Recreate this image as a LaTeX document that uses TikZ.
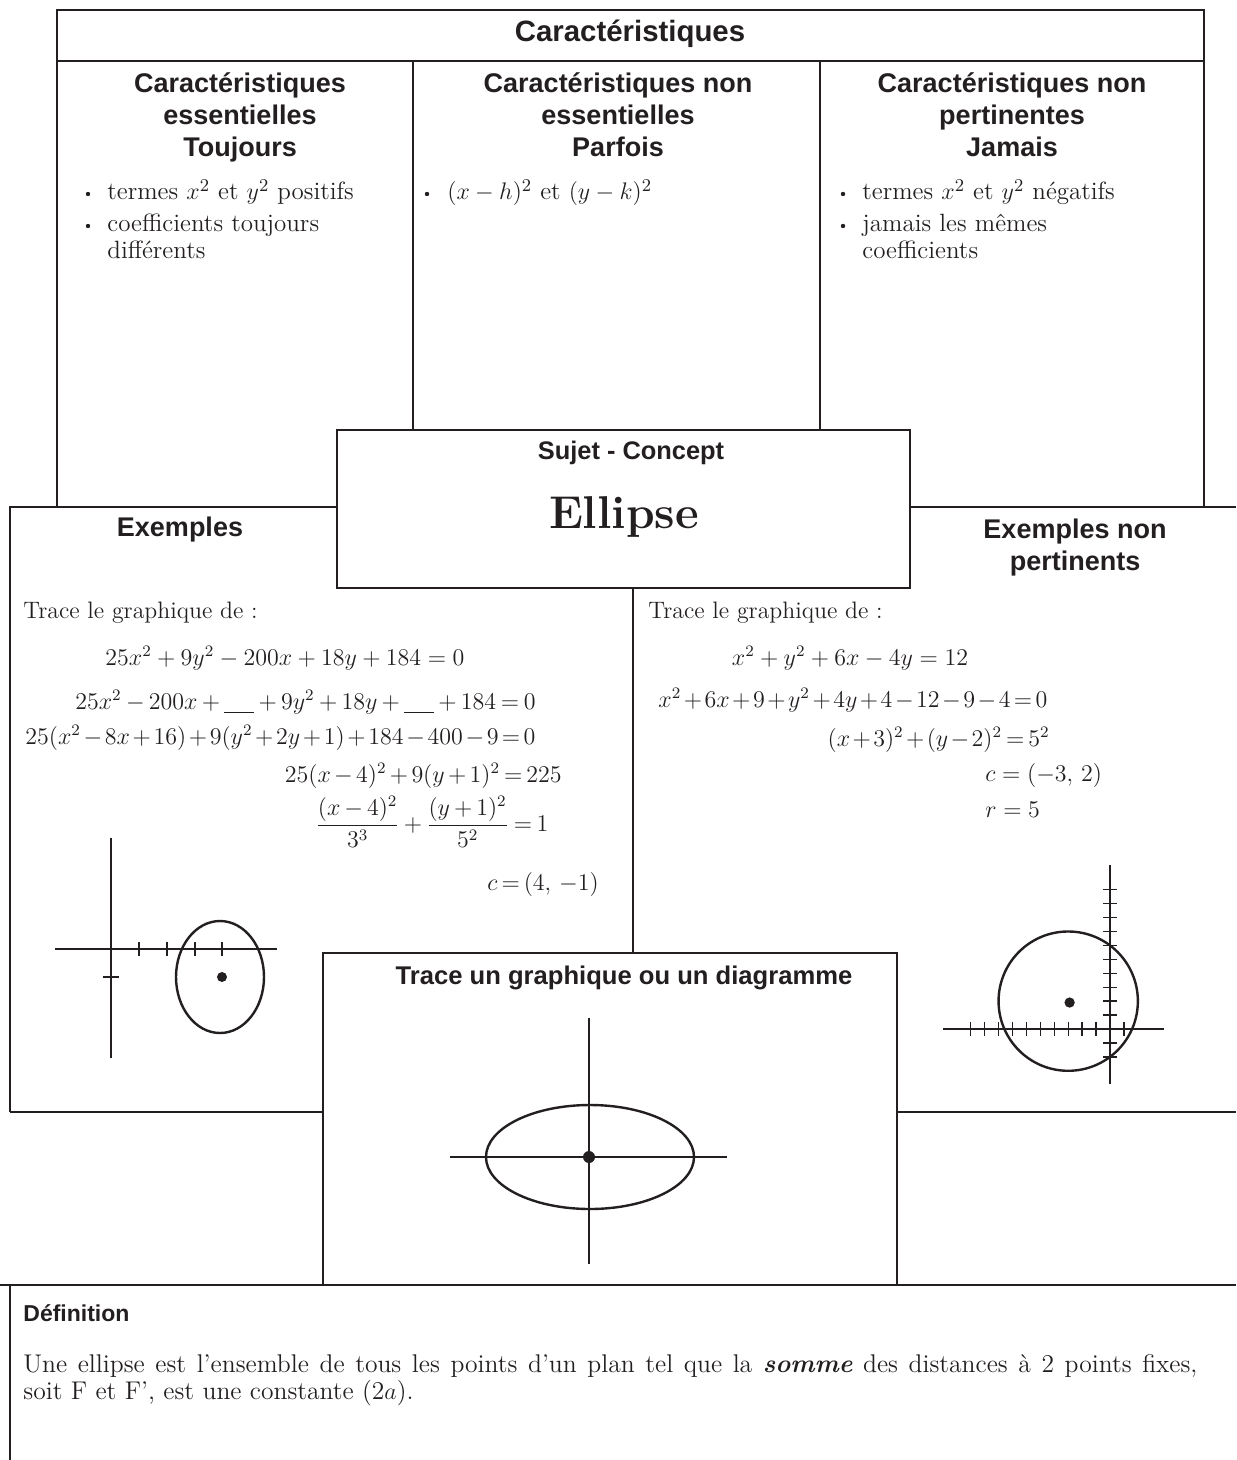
\documentclass[tikz,border=0pt]{standalone}
\usepackage{amsmath}
\usepackage{fontspec}
\newfontfamily\hv{Liberation Sans}
\definecolor{ink}{HTML}{231F20}
\newcommand{\tightmath}{\medmuskip=2.5mu plus 1mu\thickmuskip=3mu plus 1mu}
\begin{document}
\begin{tikzpicture}[x=0.5pt,y=-0.5pt,
  frame/.style={draw=ink, line width=1pt},
  hd/.style={font=\hv\bfseries\fontsize{14.7}{17}\selectfont, text=ink, inner sep=0pt},
  sub/.style={font=\hv\bfseries\fontsize{13.5}{16}\selectfont, align=center, text=ink, inner sep=0pt},
  body/.style={font=\fontsize{11.5}{14.5}\selectfont, text=ink, inner sep=0pt},
  item/.style={font=\fontsize{12.5}{14.5}\selectfont, text=ink, inner sep=0pt, anchor=base west},
  eq/.style={font=\fontsize{11.5}{14.5}\selectfont\tightmath, text=ink, inner sep=0pt},
  bul/.style={circle, fill=ink, inner sep=0pt, minimum size=2.2pt},
  axis/.style={draw=ink, line width=1.2pt},
  tk/.style={draw=ink, line width=0.7pt},
  dot/.style={fill=ink}]
\useasboundingbox[fill=white] (0,0) rectangle (1236,1460);

% ---------- frame lines ----------
\draw[frame] (57,507) -- (57,10) -- (1204,10) -- (1204,507);
\draw[frame] (57,61) -- (1204,61);
\draw[frame] (413,61) -- (413,507);
\draw[frame] (820,61) -- (820,507);
\draw[frame] (10,1112) -- (10,507) -- (1236,507);
\draw[frame] (10,1112) -- (1236,1112);
\draw[frame] (633,507) -- (633,1112);
\draw[frame] (0,1285) -- (1236,1285);
\draw[frame] (10,1285) -- (10,1460);
\draw[frame, fill=white] (337,430) rectangle (910,588);
\draw[frame, fill=white] (323,953) rectangle (897,1285);

% ---------- headers ----------
\node[hd] (carac) at (630,34) {Caractéristiques};
\node[sub, anchor=north] (ess) at (240,72) {Caractéristiques\\essentielles\\Toujours};
\node[sub, anchor=north] (noness) at (618,72) {Caractéristiques non\\essentielles\\Parfois};
\node[sub, anchor=north] (nonpert) at (1012,72) {Caractéristiques non\\pertinentes\\Jamais};

% ---------- bullets ----------
\node[bul] (b1) at (88,194) {};
\node[item] (t1) at (107,200) {termes $x^2$ et $y^2$ positifs};
\node[bul] (b2) at (88,226) {};
\node[item] (t2) at (107,232) {coefficients toujours};
\node[item] (t2b) at (107,259) {différents};

\node[bul] (b3) at (427,194) {};
\node[item] (t3) at (447,200) {$(x - h)^2$ et $(y - k)^2$};

\node[bul] (b4) at (843,194) {};
\node[item] (t4) at (862,200) {termes $x^2$ et $y^2$ négatifs};
\node[bul] (b5) at (843,226) {};
\node[item] (t5) at (862,232) {jamais les mêmes};
\node[item] (t5b) at (862,259) {coefficients};

% ---------- sujet ----------
\node[sub, font=\hv\bfseries\fontsize{12.7}{15}\selectfont] (sujet) at (631,453) {Sujet - Concept};
\node[font=\bfseries\fontsize{23}{26}\selectfont, text=ink, inner sep=0pt] (ellipse) at (624,517) {Ellipse};

\node[sub] (ex) at (180,530) {Exemples};
\node[sub] (exnp) at (1075,548) {Exemples non\\pertinents};

% ---------- left examples ----------
\node[body, font=\fontsize{11.9}{14.5}\selectfont, anchor=base west] (trl) at (23,618) {Trace le graphique de :};
\node[body] (e1) at (285,658) {$25x^2 + 9y^2 - 200x + 18y + 184 = 0$};
\node[eq, anchor=east] (e2) at (536,702) {$\medmuskip=3.2mu\thickmuskip=3.5mu 25x^2 - 200x + \underline{\hspace{15pt}} + 9y^2 + 18y + \underline{\hspace{15pt}} + 184 = 0$};
\node[eq, anchor=west] (e3) at (25,738) {$\medmuskip=2mu\thickmuskip=2.5mu 25(x^2 - 8x + 16) + 9(y^2 + 2y + 1) + 184 - 400 - 9 = 0$};
\node[eq, anchor=east] (e4) at (562,776) {$25(x - 4)^2 + 9(y + 1)^2 = 225$};
\node[eq] (e5) at (432,822) {$\medmuskip=3mu\thickmuskip=3.5mu \dfrac{(x - 4)^2}{3^3} + \dfrac{(y + 1)^2}{5^2} = 1$};
\node[eq, anchor=west] (e6) at (487,884) {$c = (4,\, -1)$};

% ---------- right examples ----------
\node[body, font=\fontsize{11.9}{14.5}\selectfont, anchor=base west] (trr) at (648,618) {Trace le graphique de :};
\node[body] (f1) at (850,658) {$x^2 + y^2 + 6x - 4y = 12$};
\node[eq, anchor=west] (f2) at (658,700) {$\medmuskip=1.9mu\thickmuskip=2.5mu x^2 + 6x + 9 + y^2 + 4y + 4 - 12 - 9 - 4 = 0$};
\node[eq, anchor=east] (f3) at (1050,740) {$\medmuskip=1.8mu (x + 3)^2 + (y - 2)^2 = 5^2$};
\node[body, anchor=west] (f4) at (985,775) {$c = (-3,\, 2)$};
\node[body, anchor=west] (f5) at (985,810) {$r = 5$};

% ---------- left graph ----------
\draw[axis] (55,949) -- (277,949);
\draw[axis] (111,838) -- (111,1058);
\foreach \xx in {139,167,195,222} \draw[tk] (\xx,942) -- (\xx,956);
\draw[tk] (103,977) -- (119,977);
\draw[axis] (220,977) ellipse [x radius=44, y radius=56];
\fill[dot] (222,977) circle (5);

% ---------- right graph ----------
\begin{scope}[shift={(1110,1029)}, x=6.965pt, y=6.965pt]
  \draw[axis] (-12,0) -- (3.84,0);
  \draw[axis] (0,-3.97) -- (0,11.8);
  \foreach \i in {-10,...,-1,1} \draw[tk] (\i,-0.5) -- (\i,0.5);
  \foreach \j in {-2,-1,1,2,...,10} \draw[tk] (-0.5,\j) -- (0.5,\j);
  \draw[axis] (-3,2) circle (5);
  \fill[dot] (-2.9,1.9) circle (0.37);
\end{scope}

% ---------- trace box ----------
\node[sub, font=\hv\bfseries\fontsize{12.8}{15}\selectfont] (trace) at (624,978) {Trace un graphique ou un diagramme};
\draw[axis] (450,1157) -- (727,1157);
\draw[axis] (589,1018) -- (589,1264);
\draw[axis] (590,1157) ellipse [x radius=104, y radius=52];
\fill[dot] (589,1157) circle (6);

% ---------- definition ----------
\node[font=\hv\bfseries\fontsize{11.5}{14}\selectfont, text=ink, inner sep=0pt, anchor=west] (def) at (23,1313) {Définition};
\node[body, font=\fontsize{12.8}{14.5}\selectfont, anchor=base west] (d1) at (23,1372) {\makebox[587pt][s]{Une ellipse est l’ensemble de tous les points d’un plan tel que la \textbf{\textit{somme}} des distances à 2 points fixes,}};
\node[body, font=\fontsize{12.8}{14.5}\selectfont, anchor=base west] (d2) at (23,1399) {soit F et F’, est une constante (2$a$).};
\end{tikzpicture}
\end{document}
